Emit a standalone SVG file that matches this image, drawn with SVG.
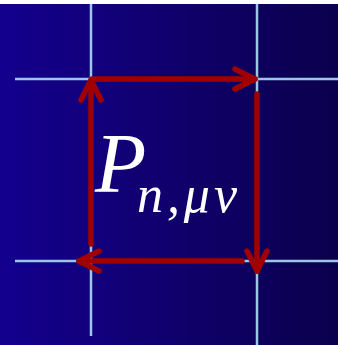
<svg xmlns="http://www.w3.org/2000/svg" width="338" height="345" viewBox="0 0 338 345">
<defs>
<linearGradient id="bg" x1="0" y1="0" x2="1" y2="0">
<stop offset="0" stop-color="#14008e"/>
<stop offset="1" stop-color="#0b004c"/>
</linearGradient>
<marker id="ah" markerUnits="userSpaceOnUse" markerWidth="40" markerHeight="40" viewBox="-30 -20 40 40" refX="0" refY="0" orient="auto" overflow="visible">
<path d="M-20,-10 L0,0 L-20,10" fill="none" stroke="#a00000" stroke-width="5.5" stroke-linecap="round" stroke-linejoin="round"/>
</marker>
<style>
.grid{stroke:#9cc6e6;stroke-width:2.5;fill:none}
.arr{stroke:#a00000;stroke-width:5.5;fill:none;stroke-linecap:round;marker-end:url(#ah)}
.t{font-family:"Liberation Serif","Times New Roman",serif;font-style:italic;fill:#ffffff}
</style>
</defs>
<rect x="0" y="4" width="338" height="341" fill="url(#bg)"/>
<g id="grid">
<line class="grid" x1="91" y1="4" x2="91" y2="336"/>
<line class="grid" x1="257" y1="4" x2="257" y2="345"/>
<line class="grid" x1="15" y1="79" x2="338" y2="79"/>
<line class="grid" x1="15" y1="261" x2="338" y2="261"/>
</g>
<g id="connectors">
<line class="arr" x1="92" y1="79" x2="255" y2="79"/>
<line class="arr" x1="257" y1="94" x2="257" y2="271"/>
<line class="arr" x1="242" y1="261" x2="79" y2="261"/>
<line class="arr" x1="91" y1="244" x2="91" y2="80"/>
</g>
<g id="label">
<text class="t" x="95" y="192" font-size="84">P</text>
<text class="t" x="137" y="212" font-size="52" textLength="100" lengthAdjust="spacing">n,μν</text>
</g>
</svg>
